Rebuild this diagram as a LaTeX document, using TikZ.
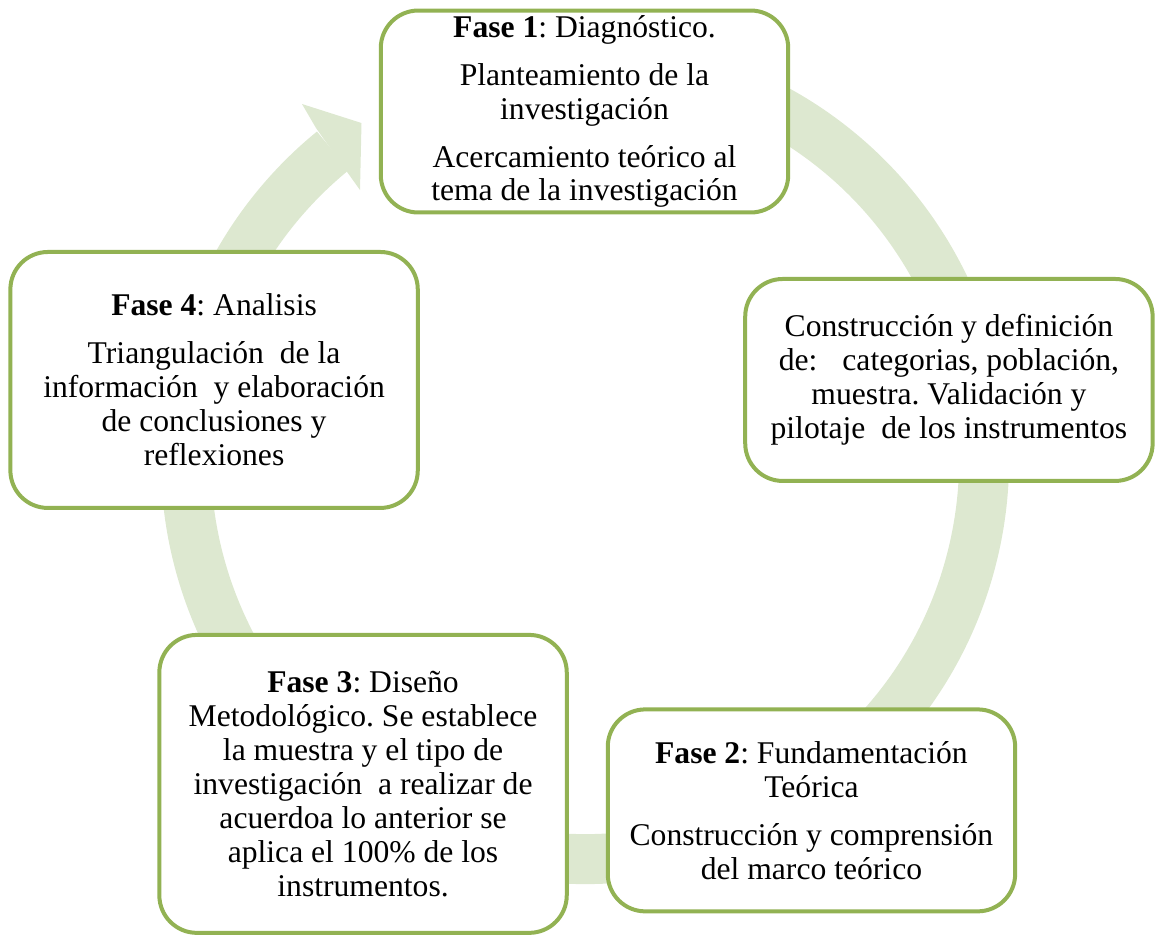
\documentclass[tikz,border=0pt]{standalone}
\usepackage{fontspec}
\setmainfont{Liberation Serif}
\usepackage{tikz}
\usetikzlibrary{positioning}

\definecolor{boxgreen}{RGB}{146,178,83}
\definecolor{ringgreen}{RGB}{221,232,208}

\begin{document}
\frenchspacing
\begin{tikzpicture}
    [
        x=0.02cm, y=0.02cm, on grid,
        phase_node/.style={rectangle, rounded corners=0.75cm, draw=boxgreen, fill=white, line width=0.08cm, minimum width=8.15cm, minimum height=4.04cm, align=center, inner sep=0pt, font=\fontsize{18pt}{19.3pt}\selectfont},
        band_line/.style={draw=ringgreen, line width=1cm},
    ]
        \useasboundingbox (0,0) rectangle (1156,-938);
        \coordinate (hub) at (585,-460);
        \draw[band_line] (hub) ++(75:399) arc[start angle=75, end angle=-230.8, radius=399];
        \fill[ringgreen] (302,-104) -- (361.5,-123) -- (360,-190) -- (345,-169) -- (316,-128) -- cycle;
        \node[phase_node] (f1) at (584.5,-111.5) {\textbf{Fase 1}: Diagnóstico.\\[8pt] Planteamiento de la\\ investigación\\[8pt] Acercamiento teórico al\\ tema de la investigación};
        \node[phase_node] (cat) [below right = 5.37cm and 7.29cm of f1] {Construcción y definición\\ de:\hspace{0.5cm}categorias, población,\\ muestra. Validación y\\ pilotaje\ \ de los instrumentos};
        \node[phase_node] (f2) [below right = 13.98cm and 4.54cm of f1] {\textbf{Fase 2}: Fundamentación\\ Teórica\\[8pt] Construcción y comprensión\\ del marco teórico};
        \node[phase_node, minimum height=5.96cm] (f3) [below left = 13.45cm and 4.43cm of f1] {\textbf{Fase 3}: Diseño\\ Metodológico. Se establece\\ la muestra y el tipo de\\ investigación\ \ a realizar de\\ acuerdoa lo anterior se\\ aplica el 100\% de los\\ instrumentos.};
        \node[phase_node, minimum height=5.12cm] (f4) [below left = 5.37cm and 7.41cm of f1] {\textbf{Fase 4}: Analisis\\[8pt] Triangulación\ \ de la\\ información\ \ y elaboración\\ de conclusiones y\\ reflexiones};
    \end{tikzpicture}
\end{document}
